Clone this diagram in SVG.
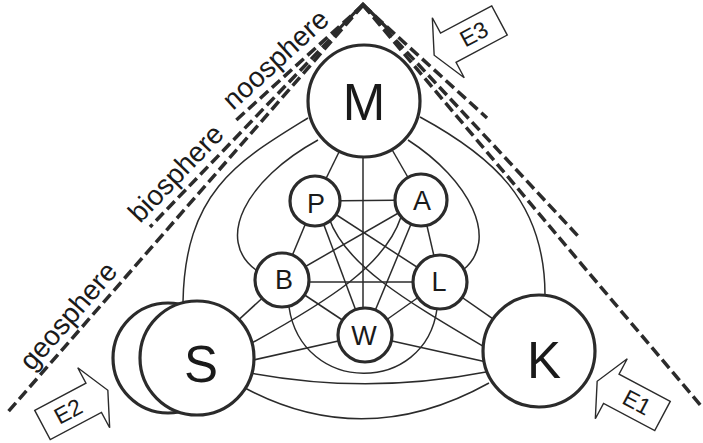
<svg xmlns="http://www.w3.org/2000/svg" width="703" height="443" viewBox="0 0 703 443">
<style>
.c{fill:#fff;stroke:#2b2b2b;stroke-width:3.2}
.e{fill:none;stroke:#2b2b2b;stroke-width:1.5}
.d{fill:none;stroke:#2b2b2b;stroke-width:3.5;stroke-dasharray:11 5}
.s{fill:none;stroke:#2b2b2b;stroke-width:3.2}
.t{font-family:"Liberation Sans",Arial,sans-serif;fill:#1a1a1a}
.big{font-size:51px;text-anchor:middle}
.sm{font-size:27px;text-anchor:middle}
.lab{font-size:28px}
.ar{fill:#fff;stroke:#2b2b2b;stroke-width:1.4}
.at{font-size:23px;text-anchor:middle}
</style>
<rect width="703" height="443" fill="#fff"/>
<g id="spheres">
<path class="d" d="M363,5 L233,123"/>
<path class="d" d="M363,5 L150,227"/>
<path class="d" d="M363,5 L7,413"/>
<path class="d" d="M363,5 L487,118"/>
<path class="d" d="M363,5 L578,236"/>
<path class="d" d="M363,5 L702,407"/>
<path class="s" d="M336,32 L363,4 L391,32"/>
<text class="t lab" transform="translate(32,372) rotate(-49)">geosphere</text>
<text class="t lab" transform="translate(140,224) rotate(-46)">biosphere</text>
<text class="t lab" transform="translate(233,111) rotate(-42.4)">noosphere</text>
</g>
<g id="connectors">
<line class="e" x1="364" y1="101" x2="315" y2="201"/>
<line class="e" x1="364" y1="101" x2="421" y2="200"/>
<line class="e" x1="363" y1="101" x2="363" y2="335"/>
<line class="e" x1="315" y1="201" x2="421" y2="200"/>
<line class="e" x1="282" y1="282" x2="440" y2="282"/>
<line class="e" x1="315" y1="201" x2="282" y2="280"/>
<line class="e" x1="421" y1="200" x2="440" y2="282"/>
<line class="e" x1="315" y1="201" x2="365" y2="335"/>
<line class="e" x1="421" y1="200" x2="365" y2="335"/>
<line class="e" x1="315" y1="201" x2="440" y2="282"/>
<line class="e" x1="421" y1="200" x2="282" y2="280"/>
<line class="e" x1="282" y1="280" x2="365" y2="335"/>
<line class="e" x1="440" y1="282" x2="365" y2="335"/>
<line class="e" x1="282" y1="280" x2="197" y2="358"/>
<line class="e" x1="440" y1="282" x2="539" y2="351"/>
<line class="e" x1="365" y1="335" x2="240" y2="363"/>
<line class="e" x1="365" y1="335" x2="500" y2="365"/>
<path class="e" d="M401,217 C385,265 330,300 250,344"/>
<path class="e" d="M329,218 C345,265 405,300 486,348"/>
<path class="e" d="M289,307 C302,395 425,395 437,309"/>
<path class="e" d="M250,373 Q368,395 486,372"/>
<path class="e" d="M245,388 Q365,452 489,383"/>
<path class="e" d="M308,118 C240,160 185,190 183,302"/>
<path class="e" d="M318,140 C245,180 215,240 256,270"/>
<path class="e" d="M420,117 C490,155 545,200 545,295"/>
<path class="e" d="M408,140 C470,180 500,240 463,270"/>
</g>
<g id="node-M"><circle class="c" cx="364" cy="101" r="56"/><text class="t big" x="364" y="120">M</text></g>
<g id="node-P"><circle class="c" cx="315" cy="201" r="25"/><text class="t sm" x="316" y="213">P</text></g>
<g id="node-A"><circle class="c" cx="421" cy="200" r="26"/><text class="t sm" x="422" y="210">A</text></g>
<g id="node-B"><circle class="c" cx="282" cy="280" r="27"/><text class="t sm" x="284" y="289">B</text></g>
<g id="node-L"><circle class="c" cx="440" cy="282" r="27"/><text class="t sm" x="439" y="291">L</text></g>
<g id="node-W"><circle class="c" cx="365" cy="335" r="27"/><text class="t sm" x="364" y="345">W</text></g>
<g id="node-S"><circle class="c" cx="168" cy="358" r="55"/><circle class="c" cx="197" cy="358" r="57"/><text class="t big" x="201" y="382">S</text></g>
<g id="node-K"><circle class="c" cx="539" cy="351" r="56"/><text class="t big" x="544" y="378">K</text></g>
<g id="E1" transform="translate(662.5,416) rotate(28)"><polygon class="ar" points="0,-16.5 -58,-16.5 -58,-34 -74,0 -58,34 -58,16.5 0,16.5"/><text class="t at" x="-29" y="8">E1</text></g>
<g id="E2" transform="translate(42.5,425) rotate(-28)"><polygon class="ar" points="0,-16.5 58,-16.5 58,-34 74,0 58,34 58,16.5 0,16.5"/><text class="t at" x="29" y="8">E2</text></g>
<g id="E3" transform="translate(499.5,20.5) rotate(-28)"><polygon class="ar" points="0,-16.5 -58,-16.5 -58,-34 -74,0 -58,34 -58,16.5 0,16.5"/><text class="t at" x="-29" y="8">E3</text></g>
</svg>
